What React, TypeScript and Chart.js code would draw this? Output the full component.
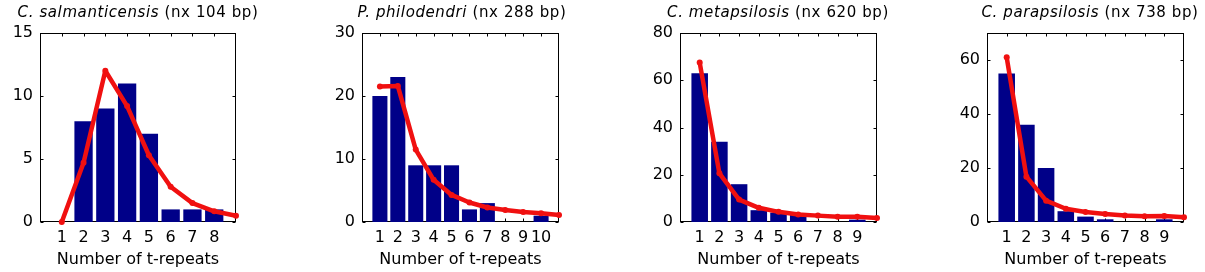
import React, { useEffect, useRef } from "react";
import { Chart, registerables } from "chart.js";

Chart.register(...registerables);

// ---------- data ----------
const titleSpecies = ["C. salmanticensis", "P. philodendri", "C. metapsilosis", "C. parapsilosis"];
const titleLengths = ["(nx 104 bp)", "(nx 288 bp)", "(nx 620 bp)", "(nx 738 bp)"];
const xAxisTitle = "Number of t-repeats";

const xTicks1 = [1, 2, 3, 4, 5, 6, 7, 8];
const xTicks2 = [1, 2, 3, 4, 5, 6, 7, 8, 9, 10];
const xTicks3 = [1, 2, 3, 4, 5, 6, 7, 8, 9];
const xTicks4 = [1, 2, 3, 4, 5, 6, 7, 8, 9];

const yTicks1 = [0, 5, 10, 15];
const yTicks2 = [0, 10, 20, 30];
const yTicks3 = [0, 20, 40, 60, 80];
const yTicks4 = [0, 20, 40, 60];

const yMax = [15, 30, 80, 70];
const xMax = [9, 11, 10, 10];

const bars1 = [0, 8, 9, 11, 7, 1, 1, 1];
const bars2 = [20, 23, 9, 9, 9, 2, 3, 0, 0, 1];
const bars3 = [63, 34, 16, 5, 4, 3, 0, 0, 1];
const bars4 = [55, 36, 20, 4, 2, 1, 0, 0, 1];

const fit1 = [0, 4.7, 12, 9.2, 5.3, 2.8, 1.5, 0.85, 0.5];
const fit2 = [21.5, 21.6, 11.5, 6.7, 4.3, 3.1, 2.3, 1.9, 1.6, 1.4, 1.1];
const fit3 = [67.5, 20.6, 9.5, 6, 4.3, 3.2, 2.7, 2.2, 2.2, 1.7];
const fit4 = [61, 16.8, 7.9, 4.9, 3.7, 3, 2.4, 2.1, 2.2, 1.8];

// ---------- layout (pixels) ----------
const plotLefts = [40, 362, 680, 987];
const plotRights = [236, 559, 877, 1184];
const titleCenters = [138, 462, 778, 1090];
const PLOT_TOP = 33;
const PLOT_BOTTOM = 222;
const H = 272;
const Y_AXIS_W = 40;
const PAD_R = 8;

const BAR_COLOR = "#000088";
const LINE_COLOR = "#F01010";
const FONT = "'DejaVu Sans', sans-serif";

const panels = [
  { xTicks: xTicks1, yTicks: yTicks1, bars: bars1, fit: fit1 },
  { xTicks: xTicks2, yTicks: yTicks2, bars: bars2, fit: fit2 },
  { xTicks: xTicks3, yTicks: yTicks3, bars: bars3, fit: fit3 },
  { xTicks: xTicks4, yTicks: yTicks4, bars: bars4, fit: fit4 },
];

const framePlugin = {
  id: "matlabFrame",
  beforeDatasetsDraw(chart: any) {
    const { ctx, chartArea: a, scales } = chart;
    ctx.save();
    ctx.strokeStyle = "#000";
    ctx.lineWidth = 1;
    const l = Math.round(a.left) + 0.5;
    const r = Math.round(a.right) - 0.5;
    const t = Math.round(a.top) + 0.5;
    const b = Math.round(a.bottom) - 0.5;
    ctx.strokeRect(l, t, r - l, b - t);
    const tl = 3;
    ctx.beginPath();
    scales.y.ticks.forEach((tk: any) => {
      const y = Math.round(scales.y.getPixelForValue(tk.value)) + 0.5;
      ctx.moveTo(l, y);
      ctx.lineTo(l + tl, y);
      ctx.moveTo(r, y);
      ctx.lineTo(r - tl, y);
    });
    scales.x.ticks.forEach((tk: any) => {
      const x = Math.round(scales.x.getPixelForValue(tk.value)) + 0.5;
      ctx.moveTo(x, t);
      ctx.lineTo(x, t + tl);
      ctx.moveTo(x, b);
      ctx.lineTo(x, b - tl);
    });
    ctx.stroke();
    ctx.restore();
  },
};

function Panel({ idx }: { idx: number }) {
  const ref = useRef<HTMLCanvasElement | null>(null);
  const p = panels[idx];
  const left = plotLefts[idx] - Y_AXIS_W;
  const width = plotRights[idx] - left + PAD_R;

  useEffect(() => {
    if (!ref.current) return;
    const chart = new Chart(ref.current, {
      type: "bar",
      data: {
        datasets: [
          {
            type: "line",
            data: p.fit.map((v, i) => ({ x: i + 1, y: v })),
            borderColor: LINE_COLOR,
            backgroundColor: LINE_COLOR,
            borderWidth: 4.5,
            pointRadius: 3,
            pointBorderWidth: 0,
            pointBackgroundColor: LINE_COLOR,
            borderJoinStyle: "round",
            borderCapStyle: "round",
            tension: 0,
            clip: false,
            order: 0,
          } as any,
          {
            type: "bar",
            data: p.bars.map((v, i) => ({ x: i + 1, y: v })),
            backgroundColor: BAR_COLOR,
            borderWidth: 0,
            barPercentage: 0.84,
            categoryPercentage: 1,
            order: 1,
          } as any,
        ],
      },
      options: {
        animation: false,
        responsive: false,
        devicePixelRatio: 1,
        layout: { padding: { left: 0, right: PAD_R, top: PLOT_TOP, bottom: 0 } },
        plugins: { legend: { display: false }, tooltip: { enabled: false }, title: { display: false } },
        scales: {
          x: {
            type: "linear",
            min: 0,
            max: xMax[idx],
            offset: false,
            grid: { display: false, drawTicks: false },
            border: { display: false },
            afterBuildTicks: (s: any) => {
              s.ticks = p.xTicks.map((v) => ({ value: v }));
            },
            afterFit: (s: any) => {
              s.height = H - PLOT_BOTTOM;
            },
            ticks: {
              autoSkip: false,
              maxRotation: 0,
              padding: 6,
              color: "#000",
              font: { family: FONT, size: 16 },
              callback: (v: any) => String(v),
            },
            title: {
              display: true,
              text: xAxisTitle,
              color: "#000",
              font: { family: FONT, size: 16 },
              padding: { top: 0, bottom: 3 },
            },
          },
          y: {
            type: "linear",
            min: 0,
            max: yMax[idx],
            grid: { display: false, drawTicks: false },
            border: { display: false },
            afterBuildTicks: (s: any) => {
              s.ticks = p.yTicks.map((v) => ({ value: v }));
            },
            afterFit: (s: any) => {
              s.width = Y_AXIS_W;
            },
            ticks: {
              padding: 7,
              color: "#000",
              font: { family: FONT, size: 16 },
              callback: (v: any) => String(v),
            },
          },
        },
      } as any,
      plugins: [framePlugin],
    });
    return () => chart.destroy();
  }, [idx]);

  return (
    <>
      <canvas
        ref={ref}
        width={width}
        height={H}
        style={{ position: "absolute", left, top: 0, width, height: H }}
      />
      <div
        style={{
          position: "absolute",
          left: titleCenters[idx] - 160,
          width: 320,
          top: 5,
          textAlign: "center",
          whiteSpace: "nowrap",
          fontFamily: FONT,
          fontSize: 15,
          lineHeight: "15px",
          letterSpacing: "0.6px",
          color: "#000",
        }}
      >
        <i>{titleSpecies[idx]}</i> {titleLengths[idx]}
      </div>
    </>
  );
}

export default function App() {
  return (
    <div
      style={{
        position: "absolute",
        left: 0,
        top: 0,
        width: 1205,
        height: H,
        background: "#fff",
        overflow: "hidden",
      }}
    >
      {panels.map((_, i) => (
        <Panel key={i} idx={i} />
      ))}
    </div>
  );
}
